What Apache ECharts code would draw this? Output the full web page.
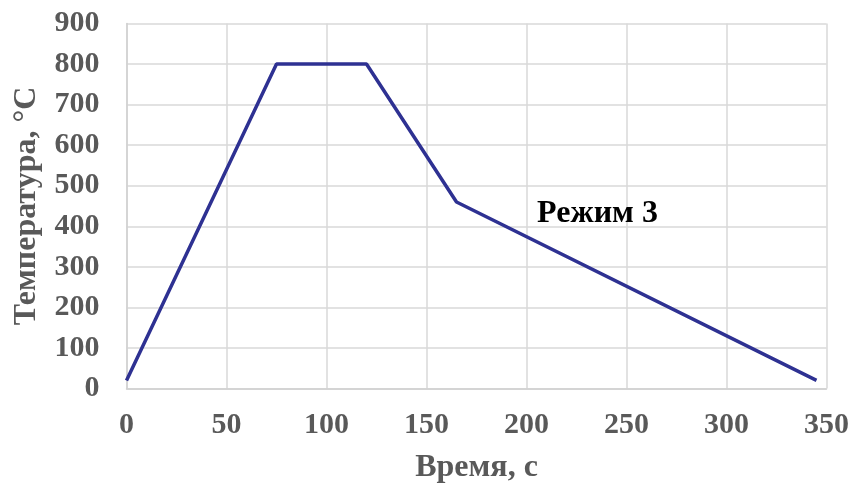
<!DOCTYPE html>
<html><head><meta charset="utf-8">
<script src="https://cdn.jsdelivr.net/npm/echarts@6/dist/echarts.min.js"></script>
<style>html,body{margin:0;padding:0;background:#fff}#c{width:854px;height:486px}</style>
</head><body><div id="c"></div>
<script>
const times = [0, 75, 120, 165, 345];
const temps = [20, 800, 800, 460, 20];
const xTicks = [0, 50, 100, 150, 200, 250, 300, 350];
const yTicks = [0, 100, 200, 300, 400, 500, 600, 700, 800, 900];
const seriesLabel = 'Режим 3';
const labelAt = [235.5, 430];
const xTitle = 'Время, с';
const yTitle = 'Температура, °C';

const font = '"Liberation Serif","Times New Roman",serif';
const chart = echarts.init(document.getElementById('c'));
chart.setOption({
  animation: false,
  grid: {left: 126.5, right: 27.5, top: 23.5, bottom: 97.5, outerBoundsMode: 'none', containLabel: false},
  xAxis: {
    type: 'value', min: xTicks[0], max: xTicks[xTicks.length - 1], interval: 50,
    name: xTitle, nameLocation: 'middle', nameGap: 63,
    nameTextStyle: {fontFamily: font, fontWeight: 'bold', fontSize: 32, color: '#595959'},
    axisLine: {lineStyle: {color: '#d0d0d0', width: 1.5}},
    axisTick: {show: false},
    splitLine: {show: true, lineStyle: {color: '#d9d9d9', width: 1.5}},
    axisLabel: {fontFamily: font, fontWeight: 'bold', fontSize: 30, color: '#595959', margin: 22}
  },
  yAxis: {
    type: 'value', min: yTicks[0], max: yTicks[yTicks.length - 1], interval: 100,
    name: yTitle, nameLocation: 'middle', nameGap: 84,
    nameTextStyle: {fontFamily: font, fontWeight: 'bold', fontSize: 32, color: '#595959'},
    axisLine: {show: true, lineStyle: {color: '#d0d0d0', width: 1.5}},
    axisTick: {show: false},
    splitLine: {show: true, lineStyle: {color: '#d9d9d9', width: 1.5}},
    axisLabel: {fontFamily: font, fontWeight: 'bold', fontSize: 30, color: '#595959', margin: 27}
  },
  series: [{
    type: 'line',
    data: times.map((t, i) => [t, temps[i]]),
    symbol: 'none',
    lineStyle: {color: '#2E3192', width: 3.5},
    markPoint: {
      symbol: 'circle', symbolSize: 0,
      data: [{coord: labelAt, value: seriesLabel}],
      label: {show: true, formatter: seriesLabel, fontFamily: font, fontWeight: 'bold', fontSize: 32, color: '#000'}
    }
  }]
});
</script></body></html>
